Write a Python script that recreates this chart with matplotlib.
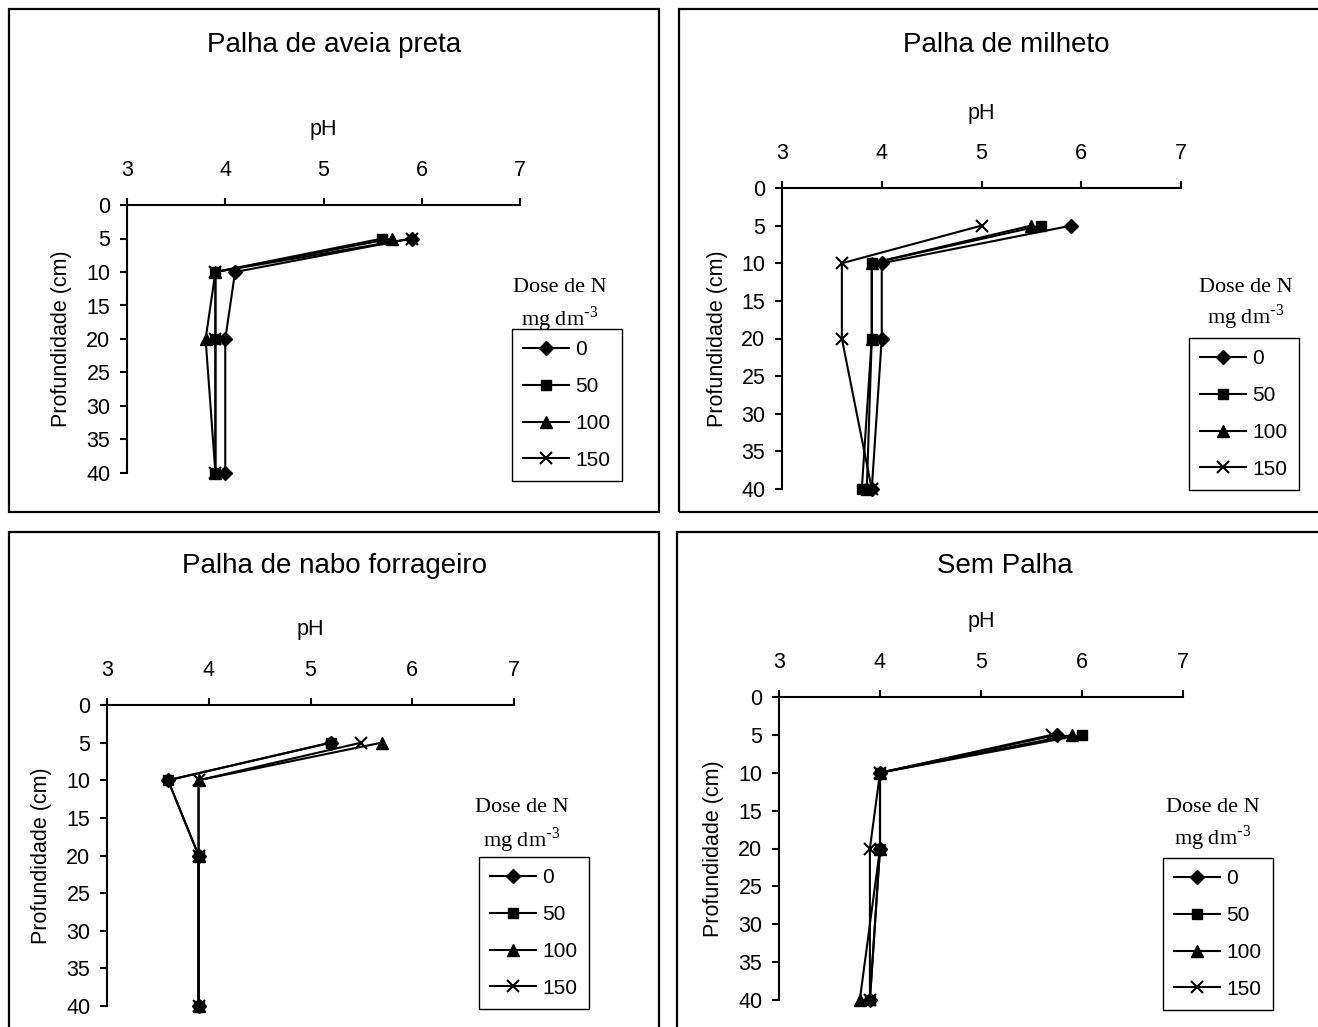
import matplotlib
matplotlib.use('Agg')
import matplotlib.pyplot as plt
from matplotlib.patches import Rectangle

plt.rcParams['font.family'] = 'Liberation Sans'

W, H = 1318, 1027

depth = [5, 10, 20, 40]
doses = ['0', '50', '100', '150']
titles = ['Palha de aveia preta', 'Palha de milheto', 'Palha de nabo forrageiro', 'Sem Palha']

# pH per dose (0, 50, 100, 150 mg dm-3) at 5, 10, 20 and 40 cm
ph_aveia = [[5.9, 4.1, 4.0, 4.0],
            [5.6, 3.9, 3.9, 3.9],
            [5.7, 3.9, 3.8, 3.9],
            [5.9, 3.9, 3.9, 3.9]]
ph_milheto = [[5.9, 4.0, 4.0, 3.9],
              [5.6, 3.9, 3.9, 3.8],
              [5.5, 3.9, 3.9, 3.85],
              [5.0, 3.6, 3.6, 3.9]]
ph_nabo = [[5.2, 3.6, 3.9, 3.9],
           [5.2, 3.6, 3.9, 3.9],
           [5.7, 3.9, 3.9, 3.9],
           [5.5, 3.9, 3.9, 3.9]]
ph_sem = [[5.75, 4.0, 4.0, 3.9],
          [6.0, 4.0, 4.0, 3.9],
          [5.9, 4.0, 4.0, 3.8],
          [5.7, 4.0, 3.9, 3.9]]
panels = [ph_aveia, ph_milheto, ph_nabo, ph_sem]

styles = [dict(marker='D', ms=7),
          dict(marker='s', ms=6.5),
          dict(marker='^', ms=8.5),
          dict(marker='x', ms=8, mew=1.5)]

# pixel layout: chart boxes, plot areas (left, top, right, bottom)
boxes = [(9, 9, 659, 512), (679, 9, 1340, 512), (9, 532, 659, 1040), (677, 532, 1340, 1040)]
axes_px = [(127, 205, 520, 473), (782, 188, 1181, 489), (107, 705, 514, 1006), (779, 697, 1183, 1000)]
title_y = [45, 45, 566, 566]
leg_box = [(512, 329), (1189, 338), (479, 857), (1163, 858)]
leg_title = [(560, 288, 319), (1246, 288, 317), (522, 808, 840), (1213, 808, 838)]


def fx(x):
    return x / W


def fy(y):
    return 1 - y / H


fig = plt.figure(figsize=(W / 100, H / 100), dpi=100)

for i in range(4):
    l, t, r, b = boxes[i]
    fig.patches.append(Rectangle((fx(l), fy(b)), fx(r - l), (b - t) / H, transform=fig.transFigure,
                                 fill=False, edgecolor='black', linewidth=1.6, zorder=0))
    fig.text(fx((l + min(r, 1333)) / 2), fy(title_y[i]), titles[i],
             ha='center', va='center', fontsize=20)

    al, at, ar, ab = axes_px[i]
    ax = fig.add_axes([fx(al), fy(ab), fx(ar - al), (ab - at) / H])
    for k in range(4):
        ax.plot(panels[i][k], depth, color='black', lw=1.5, mfc='black', mec='black',
                clip_on=False, label=doses[k], **styles[k])

    ax.set_xlim(3, 7)
    ax.set_ylim(40, 0)
    ax.set_xticks([3, 4, 5, 6, 7])
    ax.set_yticks(range(0, 41, 5))
    ax.xaxis.tick_top()
    ax.tick_params(axis='x', direction='out', length=5, width=1.5, pad=12, labelsize=15.5)
    ax.tick_params(axis='y', direction='out', length=5, width=1.5, pad=7, labelsize=15.5)
    for side in ['bottom', 'right']:
        ax.spines[side].set_visible(False)
    for side in ['top', 'left']:
        ax.spines[side].set_linewidth(1.5)
    ax.patch.set_alpha(0)

    w, h = ar - al, ab - at
    ax.text(0.5, 1 + 75 / h, 'pH', transform=ax.transAxes, ha='center', va='center', fontsize=15.5)
    ax.text(-65 / w, 0.5, 'Profundidade (cm)', transform=ax.transAxes, rotation=90,
            ha='center', va='center', fontsize=15.5)

    cx, y1, y2 = leg_title[i]
    fig.text(fx(cx), fy(y1), 'Dose de N', ha='center', va='center', fontsize=16,
             family='Liberation Serif')
    fig.text(fx(cx), fy(y2), r'mg dm$^{\mathregular{\text{-}3}}$', ha='center', va='center',
             fontsize=16, family='Liberation Serif')

    lx, ly = leg_box[i]
    leg = ax.legend(loc='upper left', bbox_to_anchor=(fx(lx), fy(ly)), bbox_transform=fig.transFigure,
                    fontsize=15, frameon=True, fancybox=False, edgecolor='black', framealpha=1,
                    handlelength=2.2, handletextpad=0.3, labelspacing=0.85, borderpad=0.55,
                    borderaxespad=0)
    leg.get_frame().set_linewidth(1.0)

fig.savefig('out.png', dpi=100, facecolor='white')
